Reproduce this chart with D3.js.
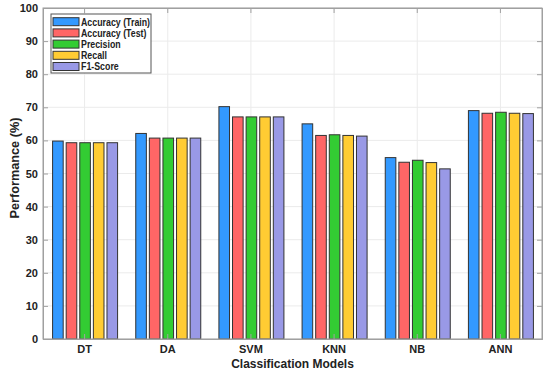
<!DOCTYPE html>
<html>
<head>
<script src="https://cdn.jsdelivr.net/npm/d3@7"></script>
<style>
  body { margin: 0; background: #fff; }
  svg { font-family: "Liberation Sans", Arial, sans-serif; font-weight: bold; }
</style>
</head>
<body>
<div id="chart"></div>
<script>
  // data
  var models = ["DT", "DA", "SVM", "KNN", "NB", "ANN"];
  var seriesNames = ["Accuracy (Train)", "Accuracy (Test)", "Precision", "Recall", "F1-Score"];
  var accTrain = [59.8, 62.1, 70.2, 65.0, 54.8, 69.0];
  var accTest = [59.3, 60.7, 67.1, 61.5, 53.4, 68.2];
  var precision = [59.3, 60.7, 67.1, 61.7, 54.0, 68.5];
  var recall = [59.3, 60.7, 67.1, 61.5, 53.3, 68.2];
  var f1 = [59.3, 60.7, 67.1, 61.3, 51.4, 68.1];
  var yTicks = [0, 10, 20, 30, 40, 50, 60, 70, 80, 90, 100];
  var colors = ["#3399ff", "#ff6666", "#33cc33", "#ffcc33", "#9999e6"];

  var series = [accTrain, accTest, precision, recall, f1];

  var width = 550, height = 376;
  var margin = { left: 43, top: 8, right: 8, bottom: 37 };
  var iw = width - margin.left - margin.right,
      ih = height - margin.top - margin.bottom;

  var svg = d3.select("#chart").append("svg")
    .attr("width", width)
    .attr("height", height);

  var g = svg.append("g")
    .attr("transform", "translate(" + margin.left + "," + margin.top + ")");

  var x = d3.scaleBand().domain(models).range([0, iw]).padding(0);
  var y = d3.scaleLinear().domain([0, 100]).range([ih, 0]);
  var xs = d3.scaleBand().domain(d3.range(series.length))
    .range([x.bandwidth() / 2 - 32, x.bandwidth() / 2 + 33]).paddingInner(0.22);

  // grid
  g.append("g").selectAll("line").data(yTicks).enter().append("line")
    .attr("x1", 0).attr("x2", iw)
    .attr("y1", function (d) { return y(d); }).attr("y2", function (d) { return y(d); })
    .attr("stroke", "#ebebeb");
  g.append("g").selectAll("line").data(models).enter().append("line")
    .attr("x1", function (d) { return x(d) + x.bandwidth() / 2; })
    .attr("x2", function (d) { return x(d) + x.bandwidth() / 2; })
    .attr("y1", 0).attr("y2", ih)
    .attr("stroke", "#ebebeb");

  // bars
  series.forEach(function (vals, i) {
    g.append("g").selectAll("rect").data(vals).enter().append("rect")
      .attr("x", function (d, j) { return x(models[j]) + xs(i); })
      .attr("y", function (d) { return y(d); })
      .attr("width", xs.bandwidth())
      .attr("height", function (d) { return ih - y(d); })
      .attr("fill", colors[i])
      .attr("stroke", "#333")
      .attr("stroke-width", 1);
  });

  // box and axes
  var axisColor = "#a0a0a0";
  g.append("rect").attr("width", iw).attr("height", ih)
    .attr("fill", "none").attr("stroke", axisColor);

  var yAxis = g.append("g")
    .call(d3.axisLeft(y).tickValues(yTicks).tickSize(-5).tickPadding(5));
  var yAxisR = g.append("g").attr("transform", "translate(" + iw + ",0)")
    .call(d3.axisRight(y).tickValues(yTicks).tickSize(-5).tickFormat(""));
  var xAxis = g.append("g").attr("transform", "translate(0," + ih + ")")
    .call(d3.axisBottom(x).tickSize(-5).tickPadding(6));
  var xAxisT = g.append("g")
    .call(d3.axisTop(x).tickSize(-5).tickFormat(""));

  [yAxis, yAxisR, xAxis, xAxisT].forEach(function (a) {
    a.select(".domain").attr("stroke", axisColor);
    a.selectAll(".tick line").attr("stroke", axisColor);
    a.selectAll("text").attr("fill", "#222").style("font-size", "11px")
      .style("font-family", "'Liberation Sans', Arial, sans-serif").style("font-weight", "bold");
  });

  // axis titles
  svg.append("text")
    .attr("x", margin.left + iw / 2).attr("y", 368)
    .attr("text-anchor", "middle")
    .style("font-size", "12px").attr("fill", "#222")
    .text("Classification Models");
  svg.append("text")
    .attr("transform", "translate(19,168) rotate(-90)")
    .attr("text-anchor", "middle")
    .style("font-size", "12.7px").attr("fill", "#222")
    .text("Performance (%)");

  // legend
  var lg = svg.append("g").attr("transform", "translate(51,14)");
  lg.append("rect").attr("width", 100).attr("height", 59)
    .attr("fill", "#fff").attr("stroke", "#555");
  seriesNames.forEach(function (name, i) {
    var row = lg.append("g").attr("transform", "translate(0," + (7.7 + i * 11.2) + ")");
    row.append("rect").attr("x", 2).attr("y", -4).attr("width", 26).attr("height", 8)
      .attr("fill", colors[i]).attr("stroke", "#333");
    row.append("text").attr("transform", "translate(30,3.8) scale(0.84,1)")
      .style("font-size", "10.5px").attr("fill", "#222")
      .text(name);
  });
</script>
</body>
</html>
